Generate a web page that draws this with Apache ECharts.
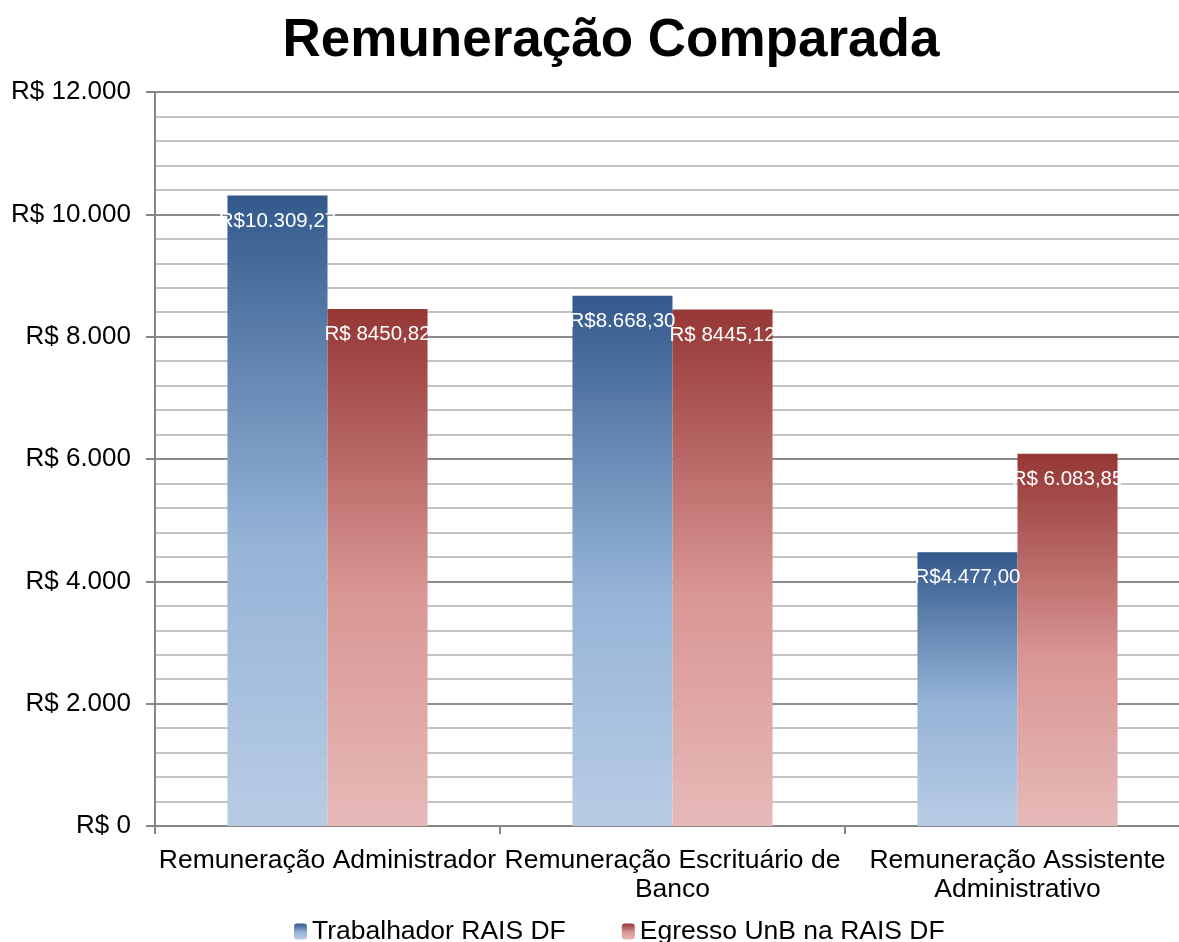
<!DOCTYPE html>
<html>
<head>
<meta charset="utf-8">
<script src="https://cdn.jsdelivr.net/npm/echarts@6/dist/echarts.min.js"></script>
<style>
	html, body { margin: 0; padding: 0; background: #fff; overflow: hidden; }
	#chart { width: 1191px; height: 942px; }
</style>
</head>
<body>
<div id="chart"></div>
<script>
var categories = ['Remuneração Administrador', 'Remuneração Escrituário de\nBanco', 'Remuneração Assistente\nAdministrativo'];
var seriesNames = ['Trabalhador RAIS DF', 'Egresso UnB na RAIS DF'];
var trabalhador = [10309.27, 8668.30, 4477.00];
var egresso = [8450.82, 8445.12, 6083.85];
var trabalhadorLabels = ['R$10.309,27', 'R$8.668,30', 'R$4.477,00'];
var egressoLabels = ['R$ 8450,82', 'R$ 8445,12', 'R$ 6.083,85'];
var yTicks = { min: 0, max: 12000, interval: 2000 };

function grad(top, mid, bottom) {
	return new echarts.graphic.LinearGradient(0, 0, 0, 1, [
		{ offset: 0, color: top },
		{ offset: 0.55, color: mid },
		{ offset: 1, color: bottom }
	]);
}

function fmtAxis(v) {
	// R$ 12.000
	var s = String(v).replace(/\B(?=(\d{3})+(?!\d))/g, '.');
	return 'R$ ' + s;
}

var myChart = echarts.init(document.getElementById('chart'));
var labelStyle = {
	show: true,
	position: 'insideTop',
	distance: 15,
	color: '#fff',
	fontSize: 20.5,
	fontFamily: 'Liberation Sans'
};
var option = {
	animation: false,
	textStyle: { fontFamily: 'Liberation Sans' },
	title: {
		text: 'Remuneração Comparada',
		left: 606,
		top: 10,
		textAlign: 'center',
		textStyle: { fontSize: 53, fontWeight: 'bold', color: '#000', fontFamily: 'Liberation Sans' }
	},
	legend: {
		data: seriesNames,
		left: 289,
		top: 913,
		itemWidth: 13,
		itemHeight: 16,
		itemGap: 56,
		textStyle: { fontSize: 26.5, color: '#000', fontFamily: 'Liberation Sans' }
	},
	grid: { left: 155, right: 1, top: 92, bottom: 116, containLabel: false },
	xAxis: [{
		type: 'category',
		data: categories,
		axisLine: { lineStyle: { color: '#868686', width: 2 } },
		axisTick: { show: true, length: 8, lineStyle: { color: '#868686', width: 2 } },
		axisLabel: { color: '#000', fontSize: 26.5, lineHeight: 29, margin: 20, interval: 0 }
	}],
	yAxis: [{
		type: 'value',
		min: yTicks.min,
		max: yTicks.max,
		interval: yTicks.interval,
		axisLine: { show: true, lineStyle: { color: '#868686', width: 2 } },
		axisTick: { show: true, length: 9, lineStyle: { color: '#868686', width: 2 } },
		axisLabel: { color: '#000', fontSize: 26, margin: 24, formatter: fmtAxis },
		splitLine: { lineStyle: { color: '#8c8c8c', width: 2 } },
		minorTick: { show: false, splitNumber: 5 },
		minorSplitLine: { show: true, lineStyle: { color: '#c4c4c4', width: 2 } }
	}],
	series: [{
		name: seriesNames[0],
		type: 'bar',
		data: trabalhador,
		barGap: '0%',
		barCategoryGap: '42%',
		itemStyle: { color: grad('#33598c', '#95b3d7', '#b8cce4') },
		label: Object.assign({}, labelStyle, {
			formatter: function (p) { return trabalhadorLabels[p.dataIndex]; }
		})
	}, {
		name: seriesNames[1],
		type: 'bar',
		data: egresso,
		itemStyle: { color: grad('#953735', '#d99694', '#e6b9b8') },
		label: Object.assign({}, labelStyle, {
			formatter: function (p) { return egressoLabels[p.dataIndex]; }
		})
	}]
};
myChart.setOption(option);
</script>
</body>
</html>
